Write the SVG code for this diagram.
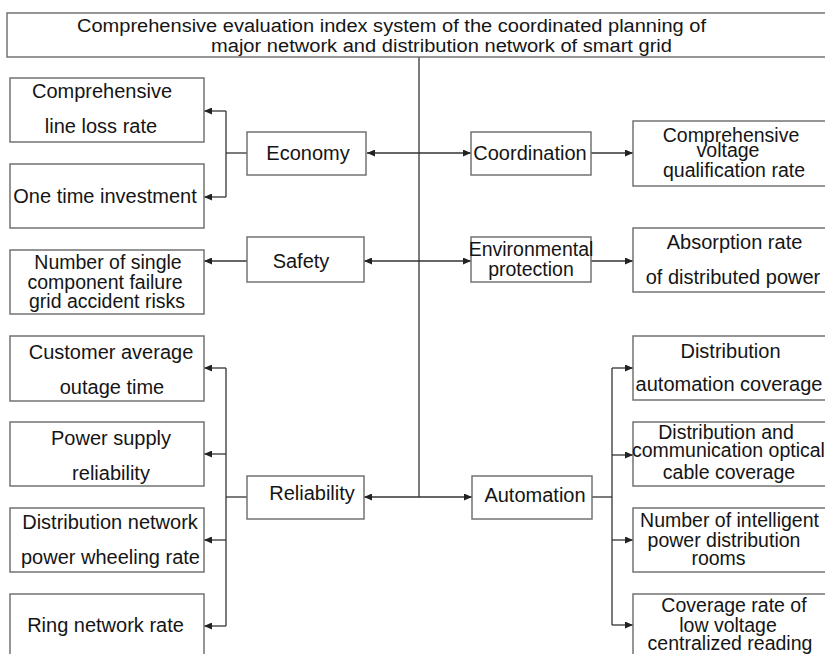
<svg xmlns="http://www.w3.org/2000/svg" width="825" height="654" viewBox="0 0 825 654">
  <style>
    .box { fill: #ffffff; stroke: #737373; stroke-width: 1.5; }
    .lbl { font-family: "Liberation Sans", Arial, sans-serif; font-size: 20px; fill: #151515; text-anchor: middle; }
    .tight { font-size: 19.5px; }
    .ttl { font-family: "Liberation Sans", Arial, sans-serif; font-size: 18px; fill: #151515; }
    .wire { fill: none; stroke: #333333; stroke-width: 1.3; }
  </style>
  <defs>
    <marker id="arrow" markerUnits="userSpaceOnUse" markerWidth="9" markerHeight="7" refX="8" refY="3.5" orient="auto">
      <path d="M0,0 L8,3.5 L0,7 z" fill="#222222"/>
    </marker>
  </defs>
  <rect width="825" height="654" fill="#ffffff"/>

  <!-- connectors -->
  <g id="connectors" class="wire">
    <path d="M419,57 V497"/>
    <path d="M419,153 H367" marker-end="url(#arrow)"/>
    <path d="M419,261 H364" marker-end="url(#arrow)"/>
    <path d="M419,497 H364" marker-end="url(#arrow)"/>
    <path d="M419,153 H471" marker-end="url(#arrow)"/>
    <path d="M419,261 H471" marker-end="url(#arrow)"/>
    <path d="M419,497 H472" marker-end="url(#arrow)"/>
    <!-- economy branch -->
    <path d="M247,153 H226"/>
    <path d="M226,111 V197"/>
    <path d="M226,111 H204" marker-end="url(#arrow)"/>
    <path d="M226,197 H204" marker-end="url(#arrow)"/>
    <!-- safety branch -->
    <path d="M247,261 H204" marker-end="url(#arrow)"/>
    <!-- reliability branch -->
    <path d="M247,497 H226"/>
    <path d="M226,368 V626"/>
    <path d="M226,368 H204" marker-end="url(#arrow)"/>
    <path d="M226,454 H204" marker-end="url(#arrow)"/>
    <path d="M226,540 H204" marker-end="url(#arrow)"/>
    <path d="M226,626 H204" marker-end="url(#arrow)"/>
    <!-- coordination / environmental branches -->
    <path d="M591,153 H633" marker-end="url(#arrow)"/>
    <path d="M591,261 H633" marker-end="url(#arrow)"/>
    <!-- automation branch -->
    <path d="M592,497 H612"/>
    <path d="M612,368 V625"/>
    <path d="M612,368 H633" marker-end="url(#arrow)"/>
    <path d="M612,455 H633" marker-end="url(#arrow)"/>
    <path d="M612,540 H633" marker-end="url(#arrow)"/>
    <path d="M612,625 H633" marker-end="url(#arrow)"/>
  </g>

  <g id="root">
    <rect class="box" x="7" y="13" width="830" height="44"/>
    <text class="ttl" x="77" y="32" textLength="629" lengthAdjust="spacingAndGlyphs">Comprehensive evaluation index system of the coordinated planning of</text>
    <text class="ttl" x="211" y="52" textLength="461" lengthAdjust="spacingAndGlyphs">major network and distribution network of smart grid</text>
  </g>

  <!-- first-level indices -->
  <g id="economy">
    <rect class="box" x="247" y="132" width="119" height="43"/>
    <text class="lbl" x="308" y="160">Economy</text>
  </g>
  <g id="safety">
    <rect class="box" x="247" y="237" width="117" height="45"/>
    <text class="lbl" x="301" y="268">Safety</text>
  </g>
  <g id="reliability">
    <rect class="box" x="247" y="476" width="117" height="43"/>
    <text class="lbl" x="312" y="500">Reliability</text>
  </g>
  <g id="coordination">
    <rect class="box" x="471" y="132" width="120" height="43"/>
    <text class="lbl" x="530" y="160">Coordination</text>
  </g>
  <g id="environmental">
    <rect class="box" x="471" y="237" width="120" height="45"/>
    <text class="lbl tight" x="531" y="256">Environmental</text>
    <text class="lbl tight" x="531" y="276">protection</text>
  </g>
  <g id="automation">
    <rect class="box" x="472" y="476" width="120" height="43"/>
    <text class="lbl" x="535" y="502">Automation</text>
  </g>

  <!-- left second-level indices -->
  <g id="line-loss">
    <rect class="box" x="10" y="78" width="194" height="64"/>
    <text class="lbl" x="102" y="98">Comprehensive</text>
    <text class="lbl" x="101" y="133">line loss rate</text>
  </g>
  <g id="investment">
    <rect class="box" x="10" y="164" width="194" height="64"/>
    <text class="lbl" x="105" y="203">One time investment</text>
  </g>
  <g id="failure-risks">
    <rect class="box" x="10" y="250" width="194" height="64"/>
    <text class="lbl tight" x="108" y="269">Number of single</text>
    <text class="lbl tight" x="105" y="289">component failure</text>
    <text class="lbl tight" x="107" y="308">grid accident risks</text>
  </g>
  <g id="outage-time">
    <rect class="box" x="10" y="336" width="194" height="65"/>
    <text class="lbl" x="111" y="359">Customer average</text>
    <text class="lbl" x="112" y="394">outage time</text>
  </g>
  <g id="supply-reliability">
    <rect class="box" x="10" y="422" width="194" height="64"/>
    <text class="lbl" x="111" y="445">Power supply</text>
    <text class="lbl" x="111" y="480">reliability</text>
  </g>
  <g id="wheeling-rate">
    <rect class="box" x="10" y="508" width="194" height="64"/>
    <text class="lbl" x="110" y="529">Distribution network</text>
    <text class="lbl" x="110.5" y="564">power wheeling rate</text>
  </g>
  <g id="ring-rate">
    <rect class="box" x="10" y="594" width="194" height="70"/>
    <text class="lbl" x="105.5" y="632">Ring network rate</text>
  </g>

  <!-- right second-level indices -->
  <g id="voltage-rate">
    <rect class="box" x="633" y="121" width="200" height="65"/>
    <text class="lbl tight" x="731" y="142">Comprehensive</text>
    <text class="lbl tight" x="728" y="157">voltage</text>
    <text class="lbl tight" x="734" y="177">qualification rate</text>
  </g>
  <g id="absorption-rate">
    <rect class="box" x="633" y="228" width="200" height="64"/>
    <text class="lbl" x="734.5" y="249">Absorption rate</text>
    <text class="lbl" x="733" y="284">of distributed power</text>
  </g>
  <g id="automation-coverage">
    <rect class="box" x="633" y="336" width="200" height="64"/>
    <text class="lbl" x="730.5" y="358">Distribution</text>
    <text class="lbl" x="729" y="391">automation coverage</text>
  </g>
  <g id="cable-coverage">
    <rect class="box" x="633" y="422" width="200" height="64"/>
    <text class="lbl tight" x="726" y="439">Distribution and</text>
    <text class="lbl tight" x="632" y="457" style="text-anchor:start">communication optical</text>
    <text class="lbl tight" x="729" y="479">cable coverage</text>
  </g>
  <g id="distribution-rooms">
    <rect class="box" x="633" y="508" width="200" height="64"/>
    <text class="lbl tight" x="729.5" y="527">Number of intelligent</text>
    <text class="lbl tight" x="724" y="547">power distribution</text>
    <text class="lbl tight" x="718.5" y="565">rooms</text>
  </g>
  <g id="reading-coverage">
    <rect class="box" x="633" y="594" width="200" height="70"/>
    <text class="lbl tight" x="734" y="612">Coverage rate of</text>
    <text class="lbl tight" x="728" y="632">low voltage</text>
    <text class="lbl tight" x="730" y="650">centralized reading</text>
  </g>
</svg>
